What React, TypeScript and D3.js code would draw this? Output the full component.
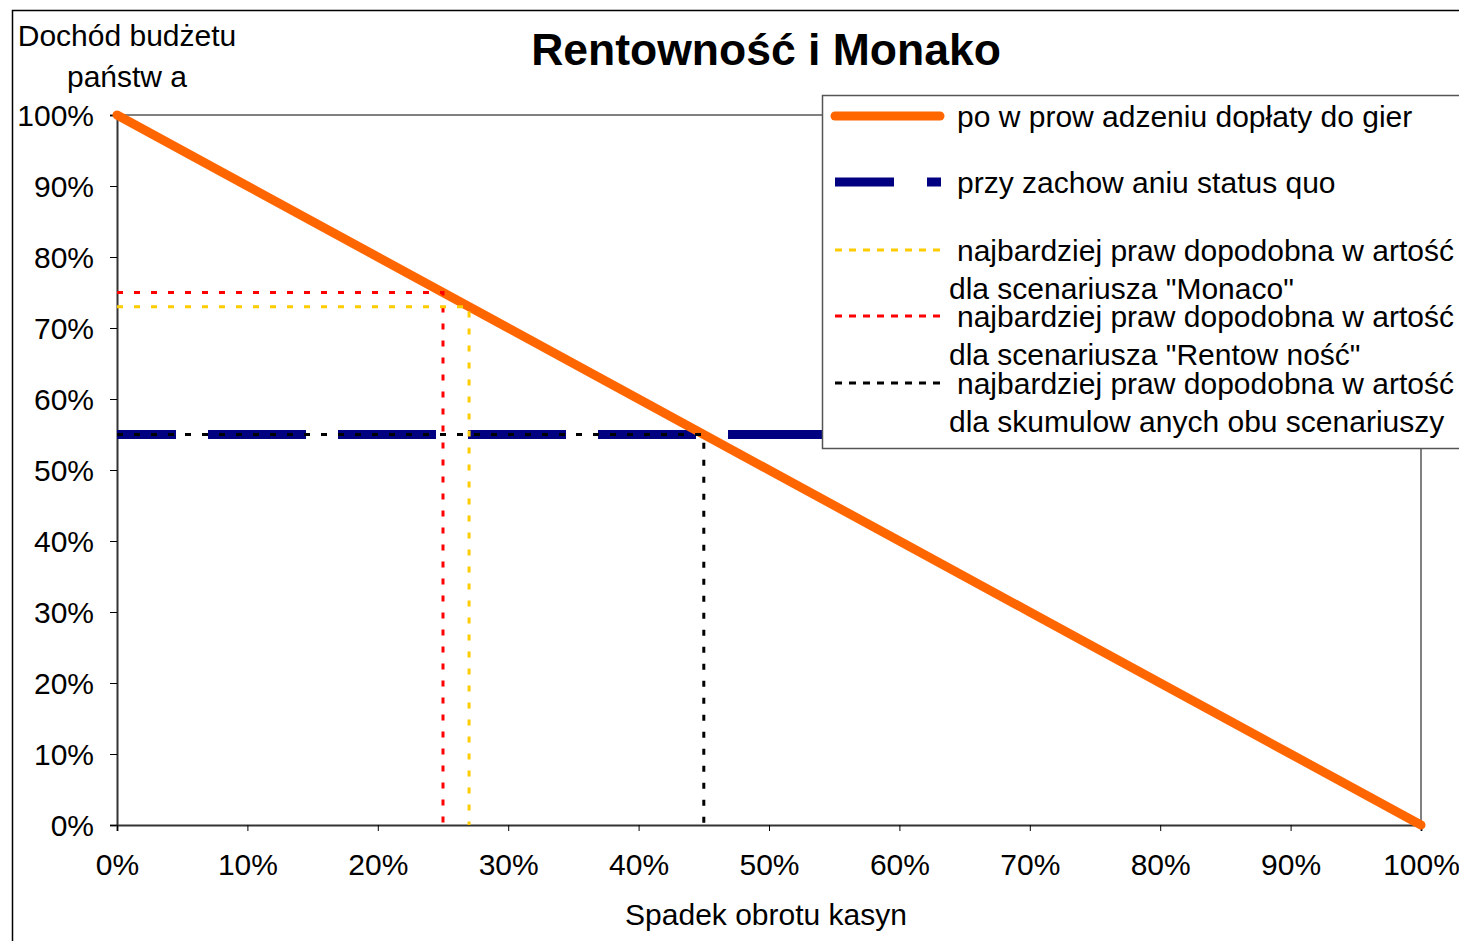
import { useEffect, useRef } from 'react';
import * as d3 from 'd3';

// dochód budżetu po wprowadzeniu dopłaty (x = spadek obrotu, y = dochód)
const dropSteps = [0, 10, 20, 30, 40, 50, 60, 70, 80, 90, 100];
const incomeAfter = [100, 90, 80, 70, 60, 50, 40, 30, 20, 10, 0];
const statusQuo = 55;
const xTicks = [0, 10, 20, 30, 40, 50, 60, 70, 80, 90, 100];
const yTicks = [0, 10, 20, 30, 40, 50, 60, 70, 80, 90, 100];

// najbardziej prawdopodobne wartości [spadek, dochód]
const monaco = [27, 73];
const rentownosc = [25, 75];
const combined = [45, 55];

const legendLabels = [
  ['po w prow adzeniu dopłaty do gier'],
  ['przy zachow aniu status quo'],
  ['najbardziej praw dopodobna w artość', 'dla scenariusza "Monaco"'],
  ['najbardziej praw dopodobna w artość', 'dla scenariusza "Rentow ność"'],
  ['najbardziej praw dopodobna w artość', 'dla skumulow anych obu scenariuszy'],
];

const W = 1459;
const H = 941;
const FONT = 'Liberation Sans, Arial, sans-serif';
const FS = 30;

function App() {
  const svgRef = useRef<SVGSVGElement>(null);

  useEffect(() => {
    if (svgRef.current === null) return;
    const svg = d3.select(svgRef.current);
    svg.selectAll('*').remove();

    const x = d3.scaleLinear().domain([0, 100]).range([117, 1421]);
    const y = d3.scaleLinear().domain([0, 100]).range([825, 115]);

    // outer chart frame
    svg.append('rect')
      .attr('x', 12.5).attr('y', 10.5)
      .attr('width', W).attr('height', H)
      .attr('fill', 'white').attr('stroke', '#000').attr('stroke-width', 1.5);

    // plot border (top + right gray)
    svg.append('path')
      .attr('d', `M${x(0)},${y(100)}H${x(100)}V${y(0)}`)
      .attr('fill', 'none').attr('stroke', '#808080').attr('stroke-width', 2);

    // axes
    const yAxis = svg.append('g').attr('transform', `translate(${x(0)},0)`)
      .call(d3.axisLeft(y).tickValues(yTicks).tickSize(7).tickFormat((d: any) => `${d}%`));
    const xAxis = svg.append('g').attr('transform', `translate(0,${y(0)})`)
      .call(d3.axisBottom(x).tickValues(xTicks).tickSize(6).tickFormat((d: any) => `${d}%`));
    [yAxis, xAxis].forEach((g: any) => {
      g.select('.domain').attr('stroke', '#333').attr('stroke-width', 2);
      g.selectAll('.tick line').attr('stroke', '#000');
      g.selectAll('text').attr('font-family', FONT).attr('font-size', FS).attr('fill', '#000');
    });
    yAxis.selectAll('text').attr('x', -23).attr('dy', '0.36em');
    xAxis.selectAll('text').attr('y', 29).attr('dy', '0.71em');

    // status quo (navy long dash)
    svg.append('line')
      .attr('x1', x(0)).attr('x2', x(100))
      .attr('y1', y(statusQuo)).attr('y2', y(statusQuo))
      .attr('stroke', '#000080').attr('stroke-width', 9)
      .attr('stroke-dasharray', '98 32').attr('stroke-dashoffset', 39);

    // main orange line
    const line = d3.line<number>()
      .x((_, i) => x(dropSteps[i]))
      .y((d) => y(d));
    svg.append('path')
      .attr('d', line(incomeAfter))
      .attr('fill', 'none').attr('stroke', '#FF6600')
      .attr('stroke-width', 9).attr('stroke-linecap', 'round');

    // guide lines
    const guides: [number[], string][] = [
      [rentownosc, '#FF0000'],
      [monaco, '#FFCC00'],
      [combined, '#000000'],
    ];
    guides.forEach(([p, color]) => {
      svg.append('path')
        .attr('d', `M${x(0)},${y(p[1])}H${x(p[0])}V${y(0)}`)
        .attr('fill', 'none').attr('stroke', color)
        .attr('stroke-width', 3).attr('stroke-dasharray', '6 11');
    });

    // title
    svg.append('text')
      .attr('x', 766).attr('y', 65)
      .attr('text-anchor', 'middle')
      .attr('font-family', FONT).attr('font-weight', 'bold').attr('font-size', 44.5)
      .text('Rentowność i Monako');

    // axis titles
    svg.append('text')
      .attr('x', 127).attr('y', 46).attr('text-anchor', 'middle')
      .attr('font-family', FONT).attr('font-size', FS)
      .text('Dochód budżetu');
    svg.append('text')
      .attr('x', 127).attr('y', 87).attr('text-anchor', 'middle')
      .attr('font-family', FONT).attr('font-size', FS)
      .text('państw a');
    svg.append('text')
      .attr('x', 766).attr('y', 925).attr('text-anchor', 'middle')
      .attr('font-family', FONT).attr('font-size', FS)
      .text('Spadek obrotu kasyn');

    // legend
    const lg = svg.append('g');
    lg.append('rect')
      .attr('x', 822.5).attr('y', 95.5).attr('width', 700).attr('height', 353)
      .attr('fill', 'white').attr('stroke', '#555').attr('stroke-width', 1.5);

    const rowY = [116, 182, 250, 316, 383];
    lg.append('line')
      .attr('x1', 835).attr('x2', 940).attr('y1', rowY[0]).attr('y2', rowY[0])
      .attr('stroke', '#FF6600').attr('stroke-width', 9).attr('stroke-linecap', 'round');
    lg.append('line')
      .attr('x1', 835).attr('x2', 941).attr('y1', rowY[1]).attr('y2', rowY[1])
      .attr('stroke', '#000080').attr('stroke-width', 9).attr('stroke-dasharray', '59 33 14 40');
    ['#FFCC00', '#FF0000', '#000000'].forEach((c, i) => {
      lg.append('line')
        .attr('x1', 835).attr('x2', 942).attr('y1', rowY[i + 2]).attr('y2', rowY[i + 2])
        .attr('stroke', c).attr('stroke-width', 3).attr('stroke-dasharray', '7 7');
    });

    legendLabels.forEach((lines, i) => {
      lines.forEach((t, j) => {
        lg.append('text')
          .attr('x', j === 0 ? 957 : 949)
          .attr('y', rowY[i] + j * 38)
          .attr('dy', '0.36em')
          .attr('font-family', FONT).attr('font-size', FS)
          .text(t);
      });
    });
  }, [svgRef]);

  return (
    <svg
      ref={svgRef}
      width={W}
      height={H}
      style={{ position: 'absolute', left: 0, top: 0, display: 'block', background: 'white' }}
    />
  );
}

export default App;
